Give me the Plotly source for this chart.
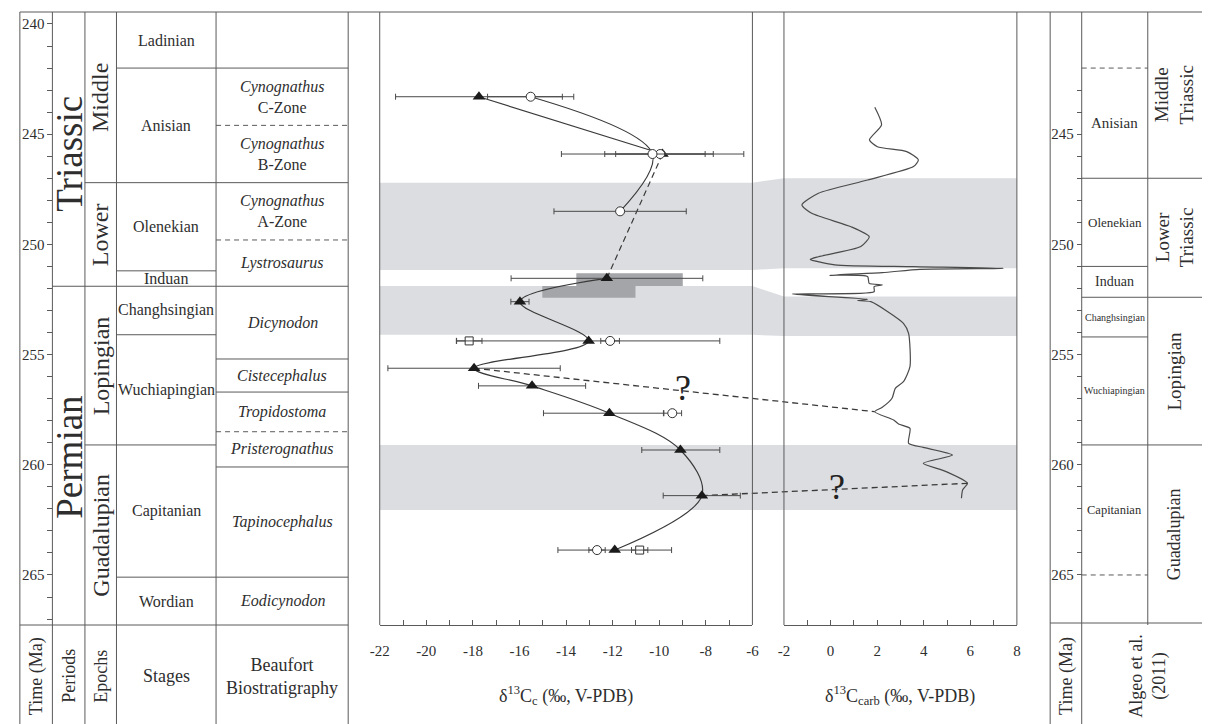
import plotly.graph_objects as go

# ======================= DATA =======================
AGE_TOP, AGE_BOT = 239.456, 267.27          # visible age window (Ma)
age_ticks = list(range(240, 268))
algeo_age_ticks = list(range(243, 266))

# Left stratigraphic table (boundaries in Ma)
period_names = ["Triassic", "Permian"]
period_bounds = [251.9]
period_label_age = [245.9, 259.65]

epoch_names = ["Middle", "Lower", "Lopingian", "Guadalupian"]
epoch_bounds = [247.2, 251.9, 259.1]

stage_names = ["Ladinian", "Anisian", "Olenekian", "Induan", "Changhsingian",
               "Wuchiapingian", "Capitanian", "Wordian"]
stage_bounds = [242.0, 247.2, 251.2, 251.9, 254.1, 259.1, 265.1]

zone_names = ["", "<i>Cynognathus</i><br>C-Zone", "<i>Cynognathus</i><br>B-Zone",
              "<i>Cynognathus</i><br>A-Zone", "<i>Lystrosaurus</i>", "<i>Dicynodon</i>",
              "<i>Cistecephalus</i>", "<i>Tropidostoma</i>", "<i>Pristerognathus</i>",
              "<i>Tapinocephalus</i>", "<i>Eodicynodon</i>"]
zone_bounds = [242.0, 244.6, 247.2, 249.8, 251.9, 255.2, 256.7, 258.5, 260.1, 265.1]
zone_dashed = [False, True, False, True, False, False, False, True, False, False]

# Right table (Algeo et al. 2011)
algeo_stage_names = ["Anisian", "Olenekian", "Induan", "Changhsingian", "Wuchiapingian", "Capitanian"]
algeo_stage_bounds = [242.0, 247.0, 251.0, 252.4, 254.2, 259.1, 265.0]
algeo_stage_dashed = [True, False, False, False, False, False, True]
algeo_epoch_names = ["Middle<br>Triassic", "Lower<br>Triassic", "Lopingian", "Guadalupian"]
algeo_epoch_bounds = [247.0, 252.4, 259.1]

# d13C of carbonate nodules (filled triangles) with error bars
tri_age = [243.3, 245.9, 251.54, 252.6, 254.38, 255.62, 256.42, 257.66, 259.33, 261.40, 263.87]
tri_val = [-17.74, -9.86, -12.25, -15.98, -13.03, -17.95, -15.46, -12.14, -9.09, -8.17, -11.91]
tri_err_minus = [3.58, 4.34, 4.11, 0.39, 5.67, 3.70, 2.30, 2.83, 1.66, 1.66, 2.44]
tri_err_plus = [3.58, 3.49, 4.12, 0.39, 5.63, 3.70, 2.30, 2.34, 1.69, 1.65, 2.44]

# open circles connected by a line
circ_age = [243.3, 245.9, 248.5]
circ_val = [-15.52, -10.29, -11.68]
circ_err_minus = [1.85, 2.05, 2.84]
circ_err_plus = [1.85, 2.26, 2.84]

# isolated open circles
circ2_age = [245.9, 254.38, 257.66, 263.87]
circ2_val = [-9.96, -12.11, -9.44, -12.67]
circ2_err_minus = [1.91, 0.40, 0.38, 0.35]
circ2_err_plus = [2.28, 0.40, 0.40, 0.35]

# open squares
sq_age = [254.38, 263.87]
sq_val = [-18.16, -10.84]
sq_err = [0.55, 0.35]

# dark grey ranges near the boundary
rect_age_top = [251.31, 251.89]
rect_age_bot = [251.89, 252.42]
rect_val_lo = [-13.56, -15.02]
rect_val_hi = [-8.99, -11.02]

# d13C carb curve
carb_age = [243.78, 244.58, 245.26, 245.57, 245.79, 246.17, 246.47, 247.08, 247.68, 248.21,
            248.59, 249.20, 249.65, 250.10, 250.56, 250.68, 250.93, 251.01, 251.09, 251.13,
            251.28, 251.40, 251.46, 251.77, 251.84, 251.92, 252.15, 252.25, 252.49, 252.55,
            252.60, 253.58, 254.04, 255.55, 256.23, 256.53, 256.98, 257.39, 257.59, 257.97,
            258.15, 258.35, 259.03, 259.21, 259.56, 259.93, 260.31, 260.84, 261.14, 261.52]
carb_val = [1.90, 2.19, 1.67, 2.01, 3.27, 3.77, 3.56, 1.59, -0.52, -1.23,
            -0.81, 0.88, 1.66, 1.30, -0.52, -0.87, 0.18, 3.56, 7.42, 3.84,
            2.22, -0.03, 1.59, 1.66, 2.22, 1.87, 1.87, -1.65, 1.59, 1.16,
            1.73, 3.13, 3.35, 3.41, 3.13, 2.78, 2.64, 2.22, 1.89, 2.71,
            2.92, 3.41, 3.35, 3.98, 5.24, 3.98, 4.96, 5.88, 5.67, 5.62]

# grey correlation bands (age top/bottom in each panel)
band_top_c = [247.2, 251.89, 259.1]
band_bot_c = [251.16, 254.1, 262.05]
band_top_carb = [247.0, 252.37, 259.1]
band_bot_carb = [251.08, 254.16, 262.05]

# dashed correlation lines (tie points)
corr_c_age = [255.62, 261.40]
corr_c_val = [-17.95, -8.17]
corr_carb_age = [257.59, 260.84]
corr_carb_val = [1.89, 5.88]

# axis ranges
C_MIN, C_MAX = -22, -6
K_MIN, K_MAX = -2, 8

# ======================= LAYOUT GEOMETRY (px) =======================
W, H = 1209, 724
XL, XT, XP, XE, XS, XB = 10, 43, 76, 108, 209, 343
M0, M1 = 375, 753
PPU = (M1 - M0) / (C_MAX - C_MIN)
R0 = 785
R1 = R0 + (K_MAX - K_MIN) * PPU
F0, FT, FS, FR = 1055, 1087, 1154, 1209
YTOP, YAX, YBOT = 12, 625, 724

FONT = "Liberation Serif"
LC = "#5a5a5a"
TC = "#2e2e2e"
BAND = "#dcdde0"
DARK = "#a4a5a8"
MK = "#1a1a1a"


def pxx(x):
    return x / W


def pxy(y):
    return 1 - y / H


def cu(r):
    """carb value -> spanning helper axis value"""
    return C_MIN + (R0 - M0) / PPU + (r - K_MIN)


fig = go.Figure()

# ---- grey bands spanning both panels (helper axis x) ----
for tc, bc, tk, bk in zip(band_top_c, band_bot_c, band_top_carb, band_bot_carb):
    fig.add_trace(go.Scatter(
        x=[C_MIN, C_MAX, cu(K_MIN), cu(K_MAX), cu(K_MAX), cu(K_MIN), C_MAX, C_MIN],
        y=[tc, tc, tk, tk, bk, bk, bc, bc],
        fill="toself", fillcolor=BAND, mode="lines", line=dict(width=0),
        xaxis="x", yaxis="y", hoverinfo="skip", showlegend=False))

# ---- dashed correlation lines ----
for ac, vc, ak, vk in zip(corr_c_age, corr_c_val, corr_carb_age, corr_carb_val):
    fig.add_trace(go.Scatter(
        x=[vc, cu(vk)], y=[ac, ak], mode="lines",
        line=dict(color="#3a3a3a", width=1.3, dash="6px,4px"),
        xaxis="x", yaxis="y", hoverinfo="skip", showlegend=False))

# dummy for right time axis
fig.add_trace(go.Scatter(x=[None], y=[None], xaxis="x", yaxis="y2", showlegend=False, hoverinfo="skip"))

# ---- carb curve ----
fig.add_trace(go.Scatter(
    x=carb_val, y=carb_age, mode="lines",
    line=dict(color="#4a4a4a", width=1.2, shape="spline", smoothing=0.6),
    xaxis="x2", yaxis="y", showlegend=False))

# ---- dark grey ranges ----
for at, ab, lo, hi in zip(rect_age_top, rect_age_bot, rect_val_lo, rect_val_hi):
    fig.add_trace(go.Scatter(
        x=[lo, hi, hi, lo, lo], y=[at, at, ab, ab, at], fill="toself", fillcolor=DARK,
        mode="lines", line=dict(width=0), xaxis="x3", yaxis="y",
        hoverinfo="skip", showlegend=False))

# ---- curves in d13Cc panel ----
line_style = dict(color="#3a3a3a", width=1.2)
fig.add_trace(go.Scatter(x=tri_val[0:2], y=tri_age[0:2], mode="lines",
                         line=dict(**line_style, shape="spline"),
                         xaxis="x3", yaxis="y", showlegend=False))
fig.add_trace(go.Scatter(x=tri_val[1:3], y=tri_age[1:3], mode="lines",
                         line=dict(**line_style, dash="6px,4px"),
                         xaxis="x3", yaxis="y", showlegend=False))
fig.add_trace(go.Scatter(x=tri_val[2:], y=tri_age[2:], mode="lines",
                         line=dict(**line_style, shape="spline"),
                         xaxis="x3", yaxis="y", showlegend=False))
fig.add_trace(go.Scatter(x=circ_val, y=circ_age, mode="lines",
                         line=dict(**line_style, shape="spline"),
                         xaxis="x3", yaxis="y", showlegend=False))

err_style = dict(type="data", symmetric=False, color="#4a4a4a", thickness=1, width=3)

fig.add_trace(go.Scatter(
    x=sq_val, y=sq_age, mode="markers",
    marker=dict(symbol="square", size=8, color="white", line=dict(color="#333", width=1)),
    error_x=dict(type="data", array=sq_err, color="#4a4a4a", thickness=1, width=3),
    xaxis="x3", yaxis="y", showlegend=False))
fig.add_trace(go.Scatter(
    x=tri_val, y=tri_age, mode="markers",
    marker=dict(symbol="triangle-up", size=11, color=MK, line=dict(width=0)),
    error_x=dict(array=tri_err_plus, arrayminus=tri_err_minus, **err_style),
    xaxis="x3", yaxis="y", showlegend=False))
fig.add_trace(go.Scatter(
    x=circ2_val, y=circ2_age, mode="markers",
    marker=dict(symbol="circle", size=9, color="white", line=dict(color="#333", width=1)),
    error_x=dict(array=circ2_err_plus, arrayminus=circ2_err_minus, **err_style),
    xaxis="x3", yaxis="y", showlegend=False))
fig.add_trace(go.Scatter(
    x=circ_val, y=circ_age, mode="markers",
    marker=dict(symbol="circle", size=9, color="white", line=dict(color="#333", width=1)),
    error_x=dict(array=circ_err_plus, arrayminus=circ_err_minus, **err_style),
    xaxis="x3", yaxis="y", showlegend=False))

# ======================= SHAPES =======================
shapes = []


def vline(x, y0, y1):
    shapes.append(dict(type="line", xref="paper", yref="paper", x0=pxx(x), x1=pxx(x),
                       y0=pxy(y0), y1=pxy(y1), line=dict(color=LC, width=1)))


def hpx(y, x0, x1):
    shapes.append(dict(type="line", xref="paper", yref="paper", x0=pxx(x0), x1=pxx(x1),
                       y0=pxy(y), y1=pxy(y), line=dict(color=LC, width=1)))


def hage(age, x0, x1, dashed=False):
    shapes.append(dict(type="line", xref="paper", yref="y", x0=pxx(x0), x1=pxx(x1),
                       y0=age, y1=age,
                       line=dict(color=LC, width=1, dash="5px,4px" if dashed else "solid")))


for x in (XL, XT, XP, XE, XS, XB, F0, FT):
    vline(x, YTOP, YBOT)
for x in (M0, M1, R0, FS):
    vline(x, YTOP, YAX)
vline(R1, YTOP, YAX)
hpx(YTOP, XL, W)
hpx(YAX, XL, XB)
hpx(YAX - 2, F0, FR)

for b in period_bounds:
    hage(b, XT, XP)
for b in epoch_bounds:
    hage(b, XP, XE)
for b in stage_bounds:
    hage(b, XE, XS)
for b, d in zip(zone_bounds, zone_dashed):
    hage(b, XS, XB, d)
for b, d in zip(algeo_stage_bounds, algeo_stage_dashed):
    hage(b, FT, FS, d)
for b in algeo_epoch_bounds:
    hage(b, FS, FR)

# ======================= ANNOTATIONS =======================
ann = []


def lab(text, xc, age, size, angle=0, yref="y"):
    ann.append(dict(text=text, x=pxx(xc), y=age, xref="paper", yref=yref,
                    showarrow=False, xanchor="center", yanchor="middle",
                    textangle=angle, font=dict(family=FONT, size=size, color=TC)))


def mids(bounds, top=AGE_TOP, bot=AGE_BOT):
    full = [top] + list(bounds) + [bot]
    return [(a + b) / 2 for a, b in zip(full[:-1], full[1:])]


for name, a in zip(period_names, period_label_age):
    lab(name, (XT + XP) / 2, a, 37, -90)
for name, a in zip(epoch_names, mids(epoch_bounds)):
    lab(name, (XP + XE) / 2, a, 24, -90)
for name, a in zip(stage_names, mids(stage_bounds)):
    lab(name, (XE + XS) / 2, a, 16)
for name, a in zip(zone_names, mids(zone_bounds)):
    if name:
        lab(name, (XS + XB) / 2, a, 16)

algeo_sizes = [15, 13, 14, 10, 10, 12.5]
for name, a, s in zip(algeo_stage_names,
                      mids(algeo_stage_bounds[1:-1], algeo_stage_bounds[0], algeo_stage_bounds[-1]),
                      algeo_sizes):
    lab(name, (FT + FS) / 2, a, s)
for name, a in zip(algeo_epoch_names, mids(algeo_epoch_bounds, AGE_TOP, 267.18)):
    lab(name, 1181, a, 19 if "Guad" not in name else 18, -90)

# headers
HY = pxy(676)
lab("Time (Ma)", (XL + XT) / 2, HY, 18, -90, "paper")
lab("Periods", (XT + XP) / 2, HY, 18, -90, "paper")
lab("Epochs", (XP + XE) / 2, HY, 18, -90, "paper")
lab("Stages", (XE + XS) / 2, HY, 18, 0, "paper")
lab("Beaufort<br>Biostratigraphy", (XS + XB) / 2, HY, 18, 0, "paper")
lab("Time (Ma)", (F0 + FT) / 2, HY, 18, -90, "paper")
lab("Algeo et al.<br>(2011)", FS, HY, 18, -90, "paper")

# axis titles
lab("δ<sup>13</sup>C<sub>c</sub> (‰, V-PDB)", (M0 + M1) / 2, pxy(695), 18, 0, "paper")
lab("δ<sup>13</sup>C<sub>carb</sub> (‰, V-PDB)", (R0 + R1) / 2, pxy(695), 18, 0, "paper")

# question marks on correlation lines
ann.append(dict(text="?", x=-9.0, y=256.5, xref="x3", yref="y", showarrow=False,
                font=dict(family=FONT, size=36, color="#222")))
ann.append(dict(text="?", x=0.28, y=261.0, xref="x2", yref="y", showarrow=False,
                font=dict(family=FONT, size=36, color="#222")))

# ======================= AXES =======================
tickfont = dict(family=FONT, size=15, color=TC)


def xticks(lo, hi):
    labelled = [v for v in range(lo, hi + 1) if v % 2 == 0]
    return dict(tickmode="array", tickvals=labelled, ticktext=[str(v) for v in labelled],
                minor=dict(tickmode="array", tickvals=list(range(lo, hi + 1)),
                           ticks="inside", ticklen=5, tickwidth=1, tickcolor=LC, showgrid=False))


def yticks(vals):
    labelled = [v for v in vals if v % 5 == 0]
    return dict(tickmode="array", tickvals=labelled, ticktext=[str(v) for v in labelled],
                minor=dict(tickmode="array", tickvals=vals,
                           ticks="outside", ticklen=5, tickwidth=1, tickcolor=LC, showgrid=False))


xcommon = dict(ticks="inside", ticklen=5, tickwidth=1, tickcolor=LC, showline=True,
               linecolor=LC, linewidth=1, showgrid=False, zeroline=False,
               tickfont=tickfont, ticklabelstandoff=12, fixedrange=True, anchor="y")

ycommon = dict(range=[AGE_BOT, AGE_TOP], anchor="free",
               side="left", ticks="outside", ticklen=5, tickwidth=1, tickcolor=LC,
               showline=False, showgrid=False, zeroline=False, tickfont=tickfont,
               fixedrange=True)

fig.update_layout(
    width=W, height=H, margin=dict(l=0, r=0, t=0, b=0), autosize=False,
    paper_bgcolor="white", plot_bgcolor="rgba(0,0,0,0)", showlegend=False,
    xaxis=dict(domain=[pxx(M0), pxx(R1)], range=[C_MIN, C_MIN + (R1 - M0) / PPU],
               visible=False, anchor="y", fixedrange=True),
    xaxis2=dict(domain=[pxx(R0), pxx(R1)], range=[K_MIN, K_MAX], **xticks(K_MIN, K_MAX), **xcommon),
    xaxis3=dict(domain=[pxx(M0), pxx(M1)], range=[C_MIN, C_MAX], **xticks(C_MIN, C_MAX), **xcommon),
    yaxis=dict(domain=[pxy(YAX), pxy(YTOP)], position=pxx(XT), **yticks(age_ticks), **ycommon),
    yaxis2=dict(overlaying="y", position=pxx(FT), **yticks(algeo_age_ticks), **ycommon),
    shapes=shapes, annotations=ann,
)

fig.write_html("out.html", config={"responsive": False, "displayModeBar": False},
               post_script="document.body.style.margin='0px';document.body.style.overflow='hidden';")
